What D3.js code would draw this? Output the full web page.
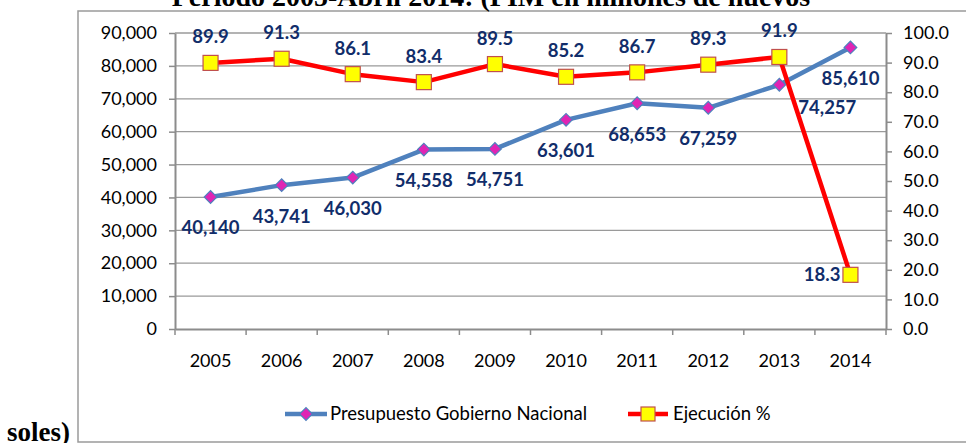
<!DOCTYPE html>
<html>
<head>
  <meta charset="utf-8">
  <script src="https://d3js.org/d3.v7.min.js"></script>
  <style>
    body { margin: 0; background: #fff; }
    text { font-family: Lato, "Open Sans", sans-serif; }
  </style>
</head>
<body>
<script>
  // values
  var years = ["2005","2006","2007","2008","2009","2010","2011","2012","2013","2014"];
  var presupuesto = [40140, 43741, 46030, 54558, 54751, 63601, 68653, 67259, 74257, 85610];
  var ejecucion = [89.9, 91.3, 86.1, 83.4, 89.5, 85.2, 86.7, 89.3, 91.9, 18.3];
  var leftTicks = [0, 10000, 20000, 30000, 40000, 50000, 60000, 70000, 80000, 90000];
  var rightTicks = [0, 10, 20, 30, 40, 50, 60, 70, 80, 90, 100];

  var W = 966, H = 443;
  var svg = d3.select("body").append("svg").attr("width", W).attr("height", H);

  // outer chart frame (right side runs off the picture)
  svg.append("rect")
    .attr("x", 78).attr("y", 11)
    .attr("width", 1000).attr("height", 431)
    .attr("fill", "none").attr("stroke", "#9a9a9a").attr("stroke-width", 1.5);

  var plotL = 175, plotR = 886, plotT = 33, plotB = 329;

  var x = d3.scaleBand().domain(years).range([plotL, plotR]);
  var cx = function (d) { return x(d) + x.bandwidth() / 2; };
  var yL = d3.scaleLinear().domain([0, 90000]).range([plotB, plotT]);
  var yR = d3.scaleLinear().domain([0, 100]).range([plotB, plotT]);

  // gridlines
  svg.append("g").selectAll("line").data(leftTicks.slice(1)).enter().append("line")
    .attr("x1", plotL).attr("x2", plotR)
    .attr("y1", function (d) { return yL(d); }).attr("y2", function (d) { return yL(d); })
    .attr("stroke", "#9a9a9a").attr("stroke-width", 1.3);

  var axisFont = function (g) {
    g.select(".domain").attr("stroke", "#8c8c8c").attr("stroke-width", 2);
    g.selectAll(".tick line").attr("stroke", "#8c8c8c").attr("stroke-width", 1.5);
    g.selectAll(".tick text").style("font-size", "18px").attr("fill", "#000");
  };

  svg.append("g").attr("transform", "translate(" + plotL + ",0)")
    .call(d3.axisLeft(yL).tickValues(leftTicks).tickSize(6).tickSizeOuter(0)
      .tickPadding(12).tickFormat(d3.format(",")))
    .call(axisFont);

  svg.append("g").attr("transform", "translate(" + plotR + ",0)")
    .call(d3.axisRight(yR).tickValues(rightTicks).tickSize(6).tickSizeOuter(0)
      .tickPadding(11).tickFormat(d3.format(".1f")))
    .call(axisFont);

  var xAxis = svg.append("g").attr("transform", "translate(0," + plotB + ")")
    .call(d3.axisBottom(x).tickSize(0).tickPadding(25))
    .call(axisFont);
  // category boundary ticks
  xAxis.selectAll(".bound").data(years.concat(["end"])).enter().append("line")
    .attr("x1", function (d, i) { return plotL + i * x.bandwidth(); })
    .attr("x2", function (d, i) { return plotL + i * x.bandwidth(); })
    .attr("y1", 0).attr("y2", 6)
    .attr("stroke", "#8c8c8c").attr("stroke-width", 1.5);

  // Presupuesto line
  var lineL = d3.line().x(function (d, i) { return cx(years[i]); }).y(function (d) { return yL(d); });
  svg.append("path").datum(presupuesto).attr("d", lineL)
    .attr("fill", "none").attr("stroke", "#4f81bd").attr("stroke-width", 4.5).attr("stroke-linejoin", "round");

  // Ejecucion line
  var lineR = d3.line().x(function (d, i) { return cx(years[i]); }).y(function (d) { return yR(d); });
  svg.append("path").datum(ejecucion).attr("d", lineR)
    .attr("fill", "none").attr("stroke", "#ff0000").attr("stroke-width", 4.5).attr("stroke-linejoin", "round");

  var diamond = d3.symbol().type(d3.symbolSquare).size(80);
  svg.append("g").selectAll("path").data(presupuesto).enter().append("path")
    .attr("d", diamond)
    .attr("transform", function (d, i) { return "translate(" + cx(years[i]) + "," + yL(d) + ") rotate(45)"; })
    .attr("fill", "#e024b4").attr("stroke", "#4f81bd").attr("stroke-width", 1.2);

  svg.append("g").selectAll("rect").data(ejecucion).enter().append("rect")
    .attr("x", function (d, i) { return cx(years[i]) - 7.5; })
    .attr("y", function (d) { return yR(d) - 7.5; })
    .attr("width", 15).attr("height", 15)
    .attr("fill", "#ffff00").attr("stroke", "#c0504d").attr("stroke-width", 1.2);

  // data labels
  var labelColor = "#112d6a";
  svg.append("g").selectAll("text").data(presupuesto).enter().append("text")
    .attr("x", function (d, i) { return cx(years[i]) + (i === 8 ? 48 : 0); })
    .attr("y", function (d, i) { return yL(d) + (i === 8 ? 23 : 31); })
    .attr("text-anchor", "middle").attr("dy", "0.35em")
    .style("font-size", "18.5px").style("font-weight", "bold").attr("fill", labelColor)
    .text(function (d) { return d3.format(",")(d); });

  svg.append("g").selectAll("text").data(ejecucion).enter().append("text")
    .attr("x", function (d, i) { return i === 9 ? cx(years[i]) - 10 : cx(years[i]); })
    .attr("y", function (d, i) { return i === 9 ? yR(d) : yR(d) - 26; })
    .attr("text-anchor", function (d, i) { return i === 9 ? "end" : "middle"; })
    .attr("dy", "0.35em")
    .style("font-size", "18.5px").style("font-weight", "bold").attr("fill", labelColor)
    .text(function (d) { return d.toFixed(1); });

  // legend
  var ly = 414;
  var lg = svg.append("g");
  lg.append("line").attr("x1", 285).attr("x2", 327).attr("y1", ly).attr("y2", ly)
    .attr("stroke", "#4f81bd").attr("stroke-width", 4.5);
  lg.append("path").attr("d", diamond)
    .attr("transform", "translate(306," + ly + ") rotate(45)")
    .attr("fill", "#e024b4").attr("stroke", "#4f81bd").attr("stroke-width", 1.2);
  lg.append("text").attr("x", 330).attr("y", ly).attr("dy", "0.35em")
    .style("font-size", "18.5px").text("Presupuesto Gobierno Nacional");
  lg.append("line").attr("x1", 628).attr("x2", 668).attr("y1", ly).attr("y2", ly)
    .attr("stroke", "#ff0000").attr("stroke-width", 4.5);
  lg.append("rect").attr("x", 641).attr("y", ly - 7).attr("width", 14).attr("height", 14)
    .attr("fill", "#ffff00").attr("stroke", "#c0504d").attr("stroke-width", 1.2);
  lg.append("text").attr("x", 673).attr("y", ly).attr("dy", "0.35em")
    .style("font-size", "18.5px").text("Ejecución %");

  // title, cut off at the top of the picture, and its last word at the bottom left
  svg.append("text").attr("x", 491).attr("y", 6)
    .attr("text-anchor", "middle")
    .style("font-family", "'Liberation Serif', serif").style("font-weight", "bold").style("font-size", "28px")
    .text("Periodo 2005-Abril 2014: (PIM en millones de nuevos");
  svg.append("text").attr("x", 7).attr("y", 441)
    .style("font-family", "'Liberation Serif', serif").style("font-weight", "bold").style("font-size", "27px")
    .text("soles)");
</script>
</body>
</html>
